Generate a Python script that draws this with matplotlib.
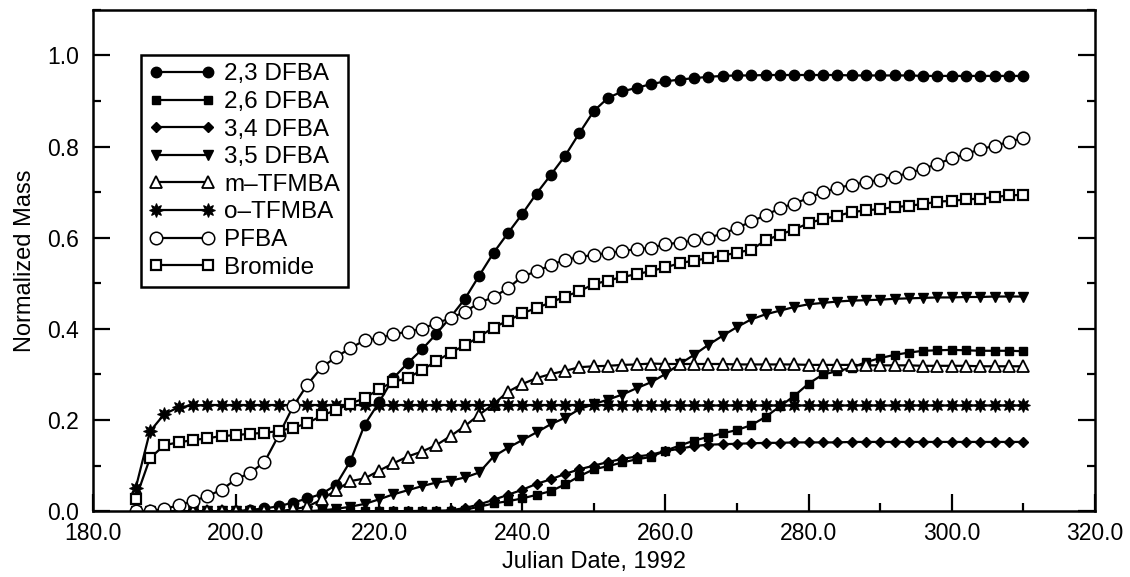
import matplotlib
matplotlib.use("Agg")
import matplotlib.pyplot as plt
from matplotlib.ticker import MultipleLocator, FormatStrFormatter

plt.rcParams['font.family'] = ['Liberation Sans', 'DejaVu Sans']

# Sampling dates (Julian day, 1992)
days = [186, 188, 190, 192, 194, 196, 198, 200,
        202, 204, 206, 208, 210, 212, 214, 216,
        218, 220, 222, 224, 226, 228, 230, 232,
        234, 236, 238, 240, 242, 244, 246, 248,
        250, 252, 254, 256, 258, 260, 262, 264,
        266, 268, 270, 272, 274, 276, 278, 280,
        282, 284, 286, 288, 290, 292, 294, 296,
        298, 300, 302, 304, 306, 308, 310]

dfba_23 = [0, 0, 0, 0, 0, 0, 0, 0,
           0.003, 0.006, 0.011, 0.019, 0.028, 0.038, 0.058, 0.110,
           0.190, 0.239, 0.292, 0.325, 0.355, 0.389, 0.426, 0.466,
           0.517, 0.567, 0.610, 0.652, 0.697, 0.738, 0.780, 0.830,
           0.878, 0.907, 0.921, 0.929, 0.937, 0.943, 0.947, 0.950,
           0.953, 0.955, 0.956, 0.956, 0.957, 0.957, 0.957, 0.957,
           0.957, 0.957, 0.956, 0.956, 0.956, 0.956, 0.956, 0.955,
           0.955, 0.955, 0.955, 0.955, 0.955, 0.955, 0.955]

dfba_26 = [0, 0, 0, 0, 0, 0, 0, 0,
           0, 0, 0, 0, 0, 0, 0, 0,
           0, 0, 0, 0, 0, 0, 0, 0.003,
           0.010, 0.017, 0.022, 0.028, 0.036, 0.044, 0.059, 0.077,
           0.092, 0.099, 0.107, 0.114, 0.119, 0.133, 0.144, 0.155,
           0.163, 0.171, 0.178, 0.189, 0.207, 0.230, 0.253, 0.280,
           0.300, 0.307, 0.315, 0.327, 0.336, 0.343, 0.348, 0.352,
           0.353, 0.354, 0.353, 0.352, 0.352, 0.352, 0.351]

dfba_34 = [0, 0, 0, 0, 0, 0, 0, 0,
           0, 0, 0, 0, 0, 0, 0, 0,
           0, 0, 0, 0, 0.001, 0.001, 0.002, 0.007,
           0.015, 0.025, 0.036, 0.047, 0.060, 0.070, 0.082, 0.092,
           0.100, 0.108, 0.115, 0.120, 0.124, 0.132, 0.137, 0.143,
           0.146, 0.147, 0.148, 0.149, 0.150, 0.150, 0.151, 0.151,
           0.151, 0.151, 0.152, 0.152, 0.152, 0.152, 0.152, 0.152,
           0.152, 0.152, 0.152, 0.152, 0.152, 0.152, 0.152]

dfba_35 = [0, 0, 0, 0, 0, 0, 0, 0,
           0, 0, 0, 0, 0, 0.002, 0.005, 0.010,
           0.016, 0.026, 0.037, 0.046, 0.055, 0.063, 0.067, 0.074,
           0.085, 0.120, 0.139, 0.156, 0.173, 0.191, 0.205, 0.224,
           0.235, 0.245, 0.256, 0.270, 0.283, 0.301, 0.323, 0.343,
           0.365, 0.385, 0.404, 0.421, 0.432, 0.440, 0.448, 0.454,
           0.457, 0.460, 0.462, 0.463, 0.464, 0.466, 0.467, 0.468,
           0.469, 0.469, 0.470, 0.470, 0.471, 0.471, 0.471]

m_tfmba = [0, 0, 0, 0, 0, 0, 0, 0,
           0, 0, 0, 0.004, 0.010, 0.026, 0.046, 0.066,
           0.072, 0.089, 0.105, 0.120, 0.131, 0.145, 0.165, 0.187,
           0.212, 0.235, 0.262, 0.279, 0.292, 0.301, 0.308, 0.316,
           0.318, 0.319, 0.321, 0.322, 0.324, 0.323, 0.323, 0.323,
           0.323, 0.323, 0.322, 0.322, 0.322, 0.322, 0.322, 0.321,
           0.321, 0.321, 0.321, 0.320, 0.320, 0.320, 0.320, 0.319,
           0.319, 0.319, 0.319, 0.318, 0.318, 0.318, 0.318]

o_tfmba = [0.050, 0.175, 0.213, 0.228, 0.232, 0.233, 0.233, 0.233,
           0.233, 0.233, 0.233, 0.233, 0.233, 0.233, 0.233, 0.233,
           0.233, 0.233, 0.233, 0.233, 0.233, 0.233, 0.233, 0.233,
           0.233, 0.233, 0.233, 0.233, 0.233, 0.233, 0.233, 0.233,
           0.233, 0.233, 0.233, 0.232, 0.232, 0.232, 0.232, 0.232,
           0.232, 0.232, 0.232, 0.232, 0.232, 0.232, 0.232, 0.232,
           0.232, 0.232, 0.232, 0.232, 0.232, 0.232, 0.232, 0.232,
           0.232, 0.232, 0.232, 0.232, 0.232, 0.232, 0.232]

pfba = [0.000, 0.000, 0.005, 0.013, 0.022, 0.033, 0.047, 0.070,
        0.084, 0.108, 0.167, 0.230, 0.278, 0.316, 0.338, 0.358,
        0.375, 0.380, 0.388, 0.394, 0.400, 0.413, 0.423, 0.438,
        0.457, 0.470, 0.489, 0.515, 0.526, 0.540, 0.552, 0.557,
        0.563, 0.566, 0.571, 0.575, 0.578, 0.586, 0.589, 0.594,
        0.600, 0.609, 0.621, 0.636, 0.649, 0.665, 0.675, 0.687,
        0.700, 0.709, 0.716, 0.722, 0.727, 0.734, 0.742, 0.751,
        0.762, 0.774, 0.784, 0.794, 0.802, 0.810, 0.819]

bromide = [0.027, 0.116, 0.145, 0.151, 0.156, 0.160, 0.165, 0.167,
           0.170, 0.172, 0.176, 0.183, 0.193, 0.210, 0.222, 0.236,
           0.248, 0.268, 0.284, 0.292, 0.310, 0.329, 0.348, 0.364,
           0.383, 0.403, 0.418, 0.434, 0.446, 0.458, 0.471, 0.483,
           0.498, 0.506, 0.514, 0.520, 0.527, 0.535, 0.544, 0.550,
           0.555, 0.561, 0.567, 0.574, 0.594, 0.607, 0.618, 0.632,
           0.641, 0.648, 0.656, 0.660, 0.663, 0.667, 0.670, 0.674,
           0.679, 0.681, 0.684, 0.686, 0.689, 0.693, 0.694]

labels = ["2,3 DFBA", "2,6 DFBA", "3,4 DFBA", "3,5 DFBA",
          "m\u2013TFMBA", "o\u2013TFMBA", "PFBA", "Bromide"]

x_ticks = [180, 200, 220, 240, 260, 280, 300, 320]
y_ticks = [0.0, 0.2, 0.4, 0.6, 0.8, 1.0]

series = [dfba_23, dfba_26, dfba_34, dfba_35, m_tfmba, o_tfmba, pfba, bromide]
styles = [
    dict(marker='o', ms=7.5, mfc='black', mec='black'),
    dict(marker='s', ms=5.5, mfc='black', mec='black'),
    dict(marker='D', ms=5.0, mfc='black', mec='black'),
    dict(marker='v', ms=7.5, mfc='black', mec='black'),
    dict(marker='^', ms=8.5, mfc='white', mec='black', mew=1.3),
    dict(marker=(8, 1, 0), ms=10, mfc='black', mec='black', mew=0.8),
    dict(marker='o', ms=9.0, mfc='white', mec='black', mew=1.1),
    dict(marker='s', ms=6.5, mfc='white', mec='black', mew=1.6),
]

fig = plt.figure(figsize=(11.3, 5.77), dpi=100)
ax = fig.add_axes([0.082, 0.114, 0.887, 0.869])

for vals, lab, st in zip(series, labels, styles):
    ax.plot(days, vals, color='black', lw=1.6, label=lab, **st)

ax.set_xlim(180, 320)
ax.set_ylim(0, 1.1)
ax.set_xticks(x_ticks)
ax.set_yticks(y_ticks)
ax.xaxis.set_minor_locator(MultipleLocator(10))
ax.yaxis.set_minor_locator(MultipleLocator(0.1))
ax.xaxis.set_major_formatter(FormatStrFormatter('%.1f'))
ax.yaxis.set_major_formatter(FormatStrFormatter('%.1f'))

ax.tick_params(axis='both', which='both', direction='in', width=1.6,
               labelsize=16.5, top=False, right=True)
ax.tick_params(axis='both', which='major', length=12)
ax.tick_params(axis='both', which='minor', length=6)
ax.tick_params(axis='y', which='major', pad=10)
ax.tick_params(axis='x', which='major', pad=8)

for sp in ax.spines.values():
    sp.set_linewidth(1.8)

ax.set_xlabel("Julian Date, 1992", fontsize=17, labelpad=4)
ax.set_ylabel("Normalized Mass", fontsize=17, labelpad=8)

leg = ax.legend(loc='upper left', bbox_to_anchor=(0.048, 0.909), numpoints=2,
                fontsize=17.5, frameon=True, fancybox=False, shadow=False,
                handlelength=2.75, handletextpad=0.35, labelspacing=0.23,
                borderpad=0.33, borderaxespad=0.0)
frame = leg.get_frame()
frame.set_edgecolor('black')
frame.set_linewidth(1.8)
frame.set_alpha(1)

fig.savefig("out.png", dpi=100)
